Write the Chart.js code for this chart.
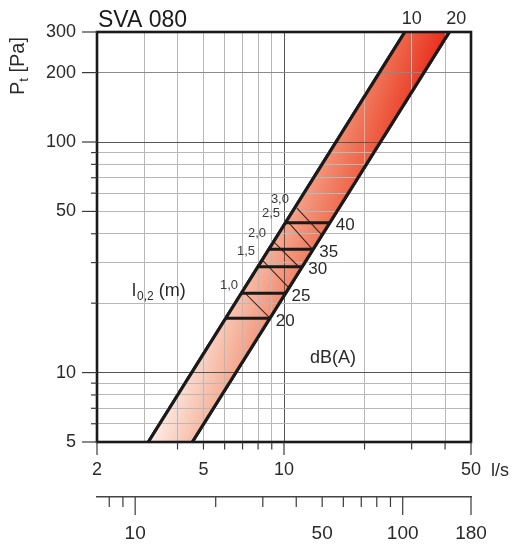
<!DOCTYPE html>
<html><head><meta charset="utf-8">
<script src="https://cdn.jsdelivr.net/npm/chart.js@4.4.1/dist/chart.umd.min.js"></script>
<style>html,body{margin:0;padding:0;background:#fff;}</style>
</head><body>
<canvas id="c" width="514" height="550"></canvas>
<script>
// ---- data ----
const chartTitle = 'SVA 080';
const flowRange = [2, 50];          // l/s
const pressureRange = [5, 300];     // Pa
const m3hRange = [7.2, 180];        // m3/h (= l/s * 3.6)
const edgeNames = ['10', '20'];
const edgeFlowBottom = [3.11, 4.54];
const edgeFlowTop = [28.3, 41.5];
const edgePressure = [5, 300];
const dbLevels = ['20', '25', '30', '35', '40'];
const dbPressure = [17.2, 22.1, 28.8, 34.3, 44.7];
const throwLabels = ['1,0', '1,5', '2,0', '2,5', '3,0'];
const throwStartFlow = [7.21, 8.35, 9.18, 10.35, 11.18];
const throwStartPressure = [21.9, 30.5, 36.8, 45.0, 51.7];
const throwEndFlow = [8.79, 10.44, 11.38, 12.73, 13.87];
const throwEndPressure = [17.4, 23.3, 28.7, 34.4, 39.5];
const xGridValues = [2, 3, 4, 5, 6, 7, 8, 9, 10, 20, 30, 40, 50];
const xTickMarks = [2, 4, 5, 6, 7, 8, 9, 10, 20, 30, 40, 50];
const xMajorMarks = [2, 10, 50];
const xLabelValues = [2, 5, 10, 50];
const yGridValues = [5, 6, 7, 8, 9, 10, 20, 30, 40, 50, 60, 70, 80, 90, 100, 200, 300];
const yLabelValues = [5, 10, 50, 100, 200, 300];
const m3hTickValues = [8, 9, 10, 20, 30, 40, 50, 60, 70, 80, 90, 100, 180];
const m3hMajor = [10, 100, 180];
const m3hLabelValues = [10, 50, 100, 180];

// ---- helpers ----
function edgeFlowAt(i, p) {
  const f0 = Math.log(edgeFlowBottom[i]), f1 = Math.log(edgeFlowTop[i]);
  const p0 = Math.log(edgePressure[0]), p1 = Math.log(edgePressure[1]);
  return Math.exp(f0 + (Math.log(p) - p0) * (f1 - f0) / (p1 - p0));
}
const FONT = 'Liberation Sans';
const TXT = '#2a2a2a';
Chart.defaults.font.family = FONT;

function bandGradient(context) {
  const chart = context.chart;
  if (!chart.chartArea || !chart.scales.x) return '#f08a70';
  const xs = chart.scales.x, ys = chart.scales.y;
  const blx = xs.getPixelForValue(edgeFlowBottom[0]), bly = ys.getPixelForValue(edgePressure[0]);
  const trx = xs.getPixelForValue(edgeFlowTop[1]), tryy = ys.getPixelForValue(edgePressure[1]);
  const d = [0.950, 0.312];
  const proj = (trx - blx) * d[0] + (tryy - bly) * d[1];
  const g = chart.ctx.createLinearGradient(blx, bly, blx + d[0] * proj, bly + d[1] * proj);
  g.addColorStop(0, '#fdeee7');
  g.addColorStop(0.3, '#f6b8a2');
  g.addColorStop(0.6, '#f07e62');
  g.addColorStop(0.75, '#ee6045');
  g.addColorStop(1, '#e92b1b');
  return g;
}

const datasets = [];
datasets.push({
  label: 'band',
  data: [
    {x: edgeFlowBottom[0], y: edgePressure[0]},
    {x: edgeFlowTop[0], y: edgePressure[1]},
    {x: edgeFlowTop[1], y: edgePressure[1]},
    {x: edgeFlowBottom[1], y: edgePressure[0]}
  ],
  fill: 'shape', backgroundColor: bandGradient, borderWidth: 0, pointRadius: 0, tension: 0
});
edgeNames.forEach((n, i) => datasets.push({
  label: 'edge ' + n,
  data: [{x: edgeFlowBottom[i], y: edgePressure[0]}, {x: edgeFlowTop[i], y: edgePressure[1]}],
  borderColor: '#1a1a1a', borderWidth: 3.2, fill: false, pointRadius: 0
}));
dbLevels.forEach((n, i) => datasets.push({
  label: 'dB ' + n,
  data: [{x: edgeFlowAt(0, dbPressure[i]), y: dbPressure[i]}, {x: edgeFlowAt(1, dbPressure[i]), y: dbPressure[i]}],
  borderColor: '#1a1a1a', borderWidth: 3, fill: false, pointRadius: 0
}));
throwLabels.forEach((n, i) => datasets.push({
  label: 'l ' + n,
  data: [{x: throwStartFlow[i], y: throwStartPressure[i]}, {x: throwEndFlow[i], y: throwEndPressure[i]}],
  borderColor: 'rgba(45,22,16,0.9)', borderWidth: 1.1, fill: false, pointRadius: 0
}));

function txt(ctx, s, x, y, size, align, base, color) {
  ctx.font = size + 'px "' + FONT + '"';
  ctx.fillStyle = color || TXT;
  ctx.textAlign = align || 'left';
  ctx.textBaseline = base || 'middle';
  ctx.fillText(s, x, y);
}
function seg(ctx, x1, y1, x2, y2) { ctx.beginPath(); ctx.moveTo(x1, y1); ctx.lineTo(x2, y2); ctx.stroke(); }

const decor = {
  id: 'decor',
  afterDraw(chart) {
    const ctx = chart.ctx, a = chart.chartArea;
    const xs = chart.scales.x, ys = chart.scales.y, x2 = chart.scales.x2;
    // redraw lines above the grid
    ctx.save();
    ctx.beginPath(); ctx.rect(a.left, a.top, a.right - a.left, a.bottom - a.top); ctx.clip();
    chart.data.datasets.forEach((ds, i) => {
      if (i === 0) return;
      const meta = chart.getDatasetMeta(i);
      meta.dataset.draw(ctx, a);
    });
    ctx.restore();
    // frame
    ctx.save();
    ctx.strokeStyle = '#1a1a1a'; ctx.lineWidth = 2.6;
    ctx.strokeRect(a.left, a.top, a.right - a.left, a.bottom - a.top);
    // tick marks
    ctx.strokeStyle = '#3a3a3a'; ctx.lineWidth = 1.2;
    xTickMarks.forEach(v => {
      const px = xs.getPixelForValue(v);
      seg(ctx, px, a.bottom, px, a.bottom + (xMajorMarks.includes(v) ? 13 : 7.5));
    });
    yGridValues.forEach(v => {
      const py = ys.getPixelForValue(v);
      seg(ctx, a.left, py, a.left - (yLabelValues.includes(v) ? 15 : 6), py);
    });
    m3hTickValues.forEach(v => {
      const px = x2.getPixelForValue(v);
      seg(ctx, px, x2.top, px, x2.top + (m3hMajor.includes(v) ? 18 : 10));
    });
    ctx.restore();
    // texts
    ctx.save();
    txt(ctx, chartTitle, a.left + 1, 27, 23, 'left', 'alphabetic', '#1a1a1a');
    // y title with subscript
    ctx.save();
    ctx.translate(24, 66); ctx.rotate(-Math.PI / 2);
    ctx.font = '20px "' + FONT + '"';
    const wP = ctx.measureText('P').width, wRest = ctx.measureText(' [Pa]').width;
    ctx.font = '13px "' + FONT + '"';
    const wT = ctx.measureText('t').width;
    let sx = -(wP + wT + wRest) / 2;
    txt(ctx, 'P', sx, 0, 20, 'left', 'alphabetic');
    txt(ctx, 't', sx + wP, 4, 13, 'left', 'alphabetic');
    txt(ctx, ' [Pa]', sx + wP + wT, 0, 20, 'left', 'alphabetic');
    ctx.restore();
    txt(ctx, 'l/s', 500, 471, 18, 'center', 'middle');
    // edge labels at top
    edgeNames.forEach((n, i) => {
      txt(ctx, n, xs.getPixelForValue(edgeFlowTop[i]) + 7, 19, 18, 'center', 'middle');
    });
    // dB labels
    dbLevels.forEach((n, i) => {
      const px = xs.getPixelForValue(edgeFlowAt(1, dbPressure[i]));
      const py = ys.getPixelForValue(dbPressure[i]);
      txt(ctx, n, px + 6, py + 3, 17, 'left', 'middle');
    });
    // throw labels
    throwLabels.forEach((n, i) => {
      const px = xs.getPixelForValue(throwStartFlow[i]);
      const py = ys.getPixelForValue(throwStartPressure[i]);
      txt(ctx, n, px - 8, py - 9, 13, 'right', 'middle', '#3a3a3a');
    });
    // l0,2 (m)
    ctx.font = '18px "' + FONT + '"';
    const wl = ctx.measureText('l').width;
    ctx.font = '12px "' + FONT + '"';
    const ws = ctx.measureText('0,2').width;
    txt(ctx, 'l', 132, 296, 18, 'left', 'alphabetic');
    txt(ctx, '0,2', 132 + wl + 1, 300, 12, 'left', 'alphabetic');
    txt(ctx, ' (m)', 132 + wl + 1 + ws, 296, 18, 'left', 'alphabetic');
    txt(ctx, 'dB(A)', 333, 358, 18, 'center', 'middle');
    ctx.restore();
  }
};

const tickFont = {family: FONT, size: 18};
new Chart(document.getElementById('c'), {
  type: 'line',
  data: {datasets},
  options: {
    responsive: false, animation: false, events: [],
    layout: {padding: {top: 32, right: 43, bottom: 0, left: 0}},
    plugins: {legend: {display: false}, tooltip: {enabled: false}, title: {display: false}},
    scales: {
      x: {
        type: 'logarithmic', position: 'bottom', min: flowRange[0], max: flowRange[1], weight: 0,
        afterBuildTicks: s => { s.ticks = xGridValues.map(v => ({value: v})); },
        afterFit: s => { s.height = 55; },
        ticks: {autoSkip: false, maxRotation: 0, minRotation: 0, padding: 17, font: tickFont, color: TXT,
          callback: v => xLabelValues.includes(v) ? String(v) : ''},
        grid: {z: 1, drawTicks: false, lineWidth: 1,
          color: c => (c.tick && c.tick.value === 10) ? '#555555' : '#b8b8b8'},
        border: {display: false}
      },
      x2: {
        type: 'logarithmic', position: 'bottom', min: m3hRange[0], max: m3hRange[1], weight: 1,
        afterBuildTicks: s => { s.ticks = m3hTickValues.map(v => ({value: v})); },
        afterFit: s => { s.height = 53; },
        ticks: {autoSkip: false, maxRotation: 0, minRotation: 0, padding: 25, font: {family: FONT, size: 19}, color: TXT,
          callback: v => m3hLabelValues.includes(v) ? String(v) : ''},
        grid: {display: false, drawTicks: false},
        border: {display: true, color: '#444444', width: 1.5}
      },
      y: {
        type: 'logarithmic', position: 'left', min: pressureRange[0], max: pressureRange[1],
        afterBuildTicks: s => { s.ticks = yGridValues.map(v => ({value: v})); },
        afterFit: s => { s.width = 97; },
        ticks: {autoSkip: false, padding: 21, font: tickFont, color: TXT,
          callback: v => yLabelValues.includes(v) ? String(v) : ''},
        grid: {z: 1, drawTicks: false, lineWidth: 1,
          color: c => {
            const v = c.tick && c.tick.value;
            if (v === 10 || v === 100) return '#555555';
            if (v === 200) return '#8a8a8a';
            return '#b8b8b8';
          }},
        border: {display: false}
      }
    }
  },
  plugins: [decor]
});
</script>
</body></html>
